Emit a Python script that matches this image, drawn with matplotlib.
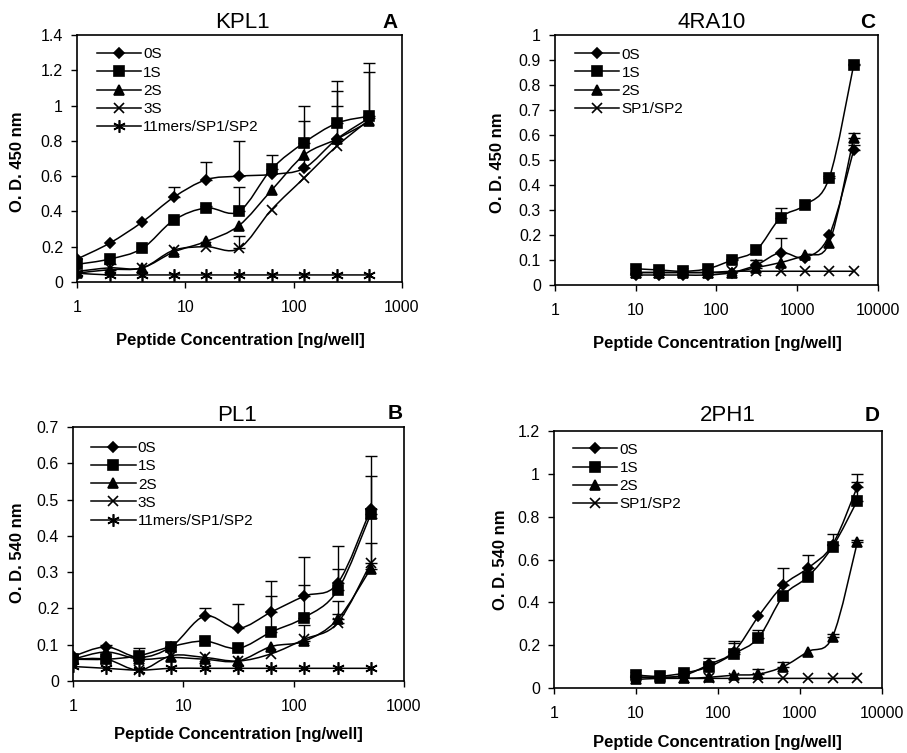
import numpy as np
import matplotlib
matplotlib.use('Agg')
import matplotlib.pyplot as plt
from matplotlib.path import Path
from matplotlib.patches import PathPatch
from matplotlib.lines import Line2D
from matplotlib.ticker import FixedLocator, NullLocator, FuncFormatter

plt.rcParams['font.family'] = ['Liberation Sans', 'DejaVu Sans']

# ========================= DADOS =========================

conc_ab = [1, 2, 4, 7.8, 15.6, 31.25, 62.5, 125, 250, 500]
conc_cd = [10, 19.5, 39, 78, 156, 312, 625, 1250, 2500, 5000]

# Painel A - KPL1
kpl1_0s = [0.13, 0.22, 0.34, 0.48, 0.58, 0.60, 0.61, 0.645, 0.81, 0.93]
kpl1_1s = [0.10, 0.13, 0.19, 0.35, 0.42, 0.40, 0.64, 0.79, 0.90, 0.94]
kpl1_2s = [0.05, 0.07, 0.08, 0.17, 0.23, 0.32, 0.52, 0.72, 0.81, 0.91]
kpl1_3s = [0.06, 0.08, 0.08, 0.18, 0.20, 0.19, 0.41, 0.59, 0.77, 0.92]
kpl1_11 = [0.05, 0.04, 0.04, 0.04, 0.04, 0.04, 0.04, 0.04, 0.04, 0.04]
kpl1_0s_err = [0, 0, 0, 0.06, 0.10, 0.20, 0, 0.265, 0.27, 0.26]
kpl1_1s_err = [0, 0, 0, 0, 0.01, 0.14, 0.08, 0.21, 0.24, 0.30]
kpl1_2s_err = [0, 0.03, 0, 0, 0, 0, 0, 0, 0.19, 0]
kpl1_3s_err = [0, 0, 0, 0, 0, 0.07, 0, 0, 0, 0]

# Painel B - PL1
pl1_0s = [0.068, 0.094, 0.065, 0.095, 0.179, 0.145, 0.19, 0.234, 0.269, 0.474]
pl1_1s = [0.06, 0.06, 0.07, 0.095, 0.11, 0.09, 0.135, 0.175, 0.25, 0.46]
pl1_2s = [0.06, 0.08, 0.06, 0.065, 0.06, 0.055, 0.095, 0.11, 0.17, 0.31]
pl1_3s = [0.06, 0.06, 0.03, 0.07, 0.065, 0.055, 0.075, 0.115, 0.16, 0.325]
pl1_11 = [0.04, 0.035, 0.03, 0.035, 0.035, 0.035, 0.035, 0.035, 0.035, 0.035]
pl1_0s_err = [0, 0.006, 0.025, 0, 0.022, 0.067, 0.087, 0.108, 0.103, 0.146]
pl1_1s_err = [0, 0, 0, 0, 0, 0, 0.10, 0.09, 0.06, 0.105]
pl1_2s_err = [0, 0, 0, 0, 0, 0, 0, 0.045, 0.05, 0.07]
pl1_3s_err = [0, 0, 0, 0, 0, 0, 0, 0, 0.025, 0.125]

# Painel C - 4RA10
ra10_0s = [0.04, 0.04, 0.04, 0.04, 0.05, 0.08, 0.13, 0.11, 0.20, 0.54]
ra10_1s = [0.065, 0.06, 0.055, 0.065, 0.10, 0.14, 0.27, 0.32, 0.43, 0.88]
ra10_2s = [0.05, 0.05, 0.05, 0.05, 0.05, 0.07, 0.09, 0.12, 0.17, 0.59]
ra10_sp = [0.05, 0.05, 0.05, 0.05, 0.055, 0.055, 0.055, 0.055, 0.055, 0.055]
ra10_0s_err = [0.01, 0, 0, 0, 0, 0.02, 0.06, 0, 0, 0.02]
ra10_1s_err = [0, 0, 0, 0, 0.005, 0, 0.04, 0, 0.005, 0.005]
ra10_2s_err = [0, 0, 0, 0, 0, 0.03, 0, 0, 0, 0.02]

# Painel D - 2PH1
ph1_0s = [0.05, 0.05, 0.06, 0.11, 0.17, 0.335, 0.48, 0.56, 0.67, 0.94]
ph1_1s = [0.06, 0.055, 0.07, 0.10, 0.16, 0.235, 0.43, 0.52, 0.66, 0.875]
ph1_2s = [0.04, 0.045, 0.045, 0.05, 0.06, 0.065, 0.10, 0.17, 0.24, 0.68]
ph1_sp = [0.05, 0.05, 0.045, 0.045, 0.045, 0.045, 0.045, 0.045, 0.045, 0.045]
ph1_0s_err = [0.01, 0, 0, 0.03, 0.04, 0, 0.08, 0.06, 0.05, 0.06]
ph1_1s_err = [0, 0, 0.01, 0, 0.06, 0.035, 0, 0, 0, 0.085]
ph1_2s_err = [0, 0, 0, 0, 0, 0.025, 0.02, 0, 0.01, 0.01]

labels_ab = ['0S', '1S', '2S', '3S', '11mers/SP1/SP2']
labels_cd = ['0S', '1S', '2S', 'SP1/SP2']

MARKERS = {'0S': ('D', 5.5), '1S': ('s', 6.5), '2S': ('^', 7.5), '3S': ('x', 7),
           '11mers/SP1/SP2': ((6, 2, 0), 9), 'SP1/SP2': ('x', 7)}


# ========================= DESENHO =========================

def smooth_path(x, y):
    """Curva suavizada (estilo Excel) entre os pontos, no espaço log-x."""
    lx = np.log10(np.asarray(x, float))
    y = np.asarray(y, float)
    n = len(lx)
    verts = [(lx[0], y[0])]
    codes = [Path.MOVETO]
    for i in range(n - 1):
        i0 = max(i - 1, 0)
        i3 = min(i + 2, n - 1)
        c1 = (lx[i] + (lx[i + 1] - lx[i0]) / 6, y[i] + (y[i + 1] - y[i0]) / 6)
        c2 = (lx[i + 1] - (lx[i3] - lx[i]) / 6, y[i + 1] - (y[i3] - y[i]) / 6)
        verts += [c1, c2, (lx[i + 1], y[i + 1])]
        codes += [Path.CURVE4] * 3
    verts = np.array(verts)
    verts[:, 0] = 10 ** verts[:, 0]
    return Path(verts, codes)


def draw_panel(rect, x, series, labels, errs, ymax, ystep, xmax, legend_pos):
    ax = fig.add_axes(rect)
    ax.set_xscale('log')
    for y, lab, err in zip(series, labels, errs):
        mk, ms = MARKERS[lab]
        ax.add_patch(PathPatch(smooth_path(x, y), fill=False, ec='black', lw=1.1, zorder=2))
        ax.plot(x, y, ls='none', marker=mk, ms=ms, color='black', mew=1.2, zorder=3)
        if err is not None:
            e = np.asarray(err)
            m = e > 0
            xs = np.asarray(x)[m]
            ys = np.asarray(y)[m]
            ax.errorbar(xs, ys, yerr=[np.zeros(m.sum()), e[m]], fmt='none',
                        ecolor='black', elinewidth=1, capsize=4, capthick=1, zorder=2)
    ax.set_xlim(1, xmax)
    ax.set_ylim(0, ymax)
    decades = [10 ** k for k in range(int(np.log10(xmax)) + 1)]
    ax.xaxis.set_major_locator(FixedLocator(decades))
    ax.xaxis.set_minor_locator(NullLocator())
    ax.xaxis.set_major_formatter(FuncFormatter(lambda v, p: '%d' % v))
    ax.yaxis.set_major_locator(FixedLocator(np.arange(0, ymax + 1e-9, ystep)))
    ax.yaxis.set_major_formatter(FuncFormatter(lambda v, p: '%g' % round(v, 2)))
    ax.tick_params(direction='out', length=4, width=1, labelsize=11.5)
    ax.tick_params(axis='x', pad=9)
    ax.tick_params(axis='y', pad=6)
    for s in ax.spines.values():
        s.set_linewidth(1.2)
    handles = [Line2D([0], [0], color='black', lw=1.1, marker=MARKERS[l][0],
                      ms=MARKERS[l][1], mew=1.2) for l in labels]
    ax.legend(handles, labels, loc='upper left', bbox_to_anchor=legend_pos,
              frameon=False, fontsize=11, handlelength=2.9, handletextpad=0.15,
              labelspacing=0.28, borderpad=0, borderaxespad=0)
    return ax


W, H = 907, 753
fig = plt.figure(figsize=(W / 100, H / 100), dpi=100)


def ftext(px, py, s, **kw):
    fig.text(px / W, 1 - py / H, s, ha='center', va='center', **kw)


draw_panel([0.0849, 0.6255, 0.3583, 0.328], conc_ab,
           [kpl1_0s, kpl1_1s, kpl1_2s, kpl1_3s, kpl1_11], labels_ab,
           [kpl1_0s_err, kpl1_1s_err, kpl1_2s_err, kpl1_3s_err, None],
           1.4, 0.2, 1000, (0.06, 0.95))
draw_panel([0.0805, 0.0956, 0.3649, 0.3373], conc_ab,
           [pl1_0s, pl1_1s, pl1_2s, pl1_3s, pl1_11], labels_ab,
           [pl1_0s_err, pl1_1s_err, pl1_2s_err, pl1_3s_err, None],
           0.7, 0.1, 1000, (0.055, 0.945))
draw_panel([0.6119, 0.6215, 0.3561, 0.332], conc_cd,
           [ra10_0s, ra10_1s, ra10_2s, ra10_sp], labels_cd,
           [ra10_0s_err, ra10_1s_err, ra10_2s_err, None],
           1.0, 0.1, 10000, (0.062, 0.95))
draw_panel([0.6108, 0.0863, 0.3616, 0.3413], conc_cd,
           [ph1_0s, ph1_1s, ph1_2s, ph1_sp], labels_cd,
           [ph1_0s_err, ph1_1s_err, ph1_2s_err, None],
           1.2, 0.2, 10000, (0.058, 0.955))

# títulos e letras
ftext(242, 22, 'KPL1', fontsize=16)
ftext(390, 22, 'A', fontsize=15, fontweight='bold')
ftext(712, 22, '4RA10', fontsize=16)
ftext(868, 22, 'C', fontsize=15, fontweight='bold')
ftext(237, 416, 'PL1', fontsize=16)
ftext(395, 414, 'B', fontsize=15, fontweight='bold')
ftext(728, 416, '2PH1', fontsize=16)
ftext(872, 416, 'D', fontsize=15, fontweight='bold')

# rótulos dos eixos
xl = 'Peptide Concentration [ng/well]'
ftext(240, 340, xl, fontsize=12, fontweight='bold')
ftext(717, 343, xl, fontsize=12, fontweight='bold')
ftext(238, 735, xl, fontsize=12, fontweight='bold')
ftext(717, 742, xl, fontsize=12, fontweight='bold')
ftext(18, 162, 'O. D. 450 nm', fontsize=12, fontweight='bold', rotation=90)
ftext(497, 163, 'O. D. 450 nm', fontsize=12, fontweight='bold', rotation=90)
ftext(18, 553, 'O. D. 540 nm', fontsize=12, fontweight='bold', rotation=90)
ftext(500, 560, 'O. D. 540 nm', fontsize=12, fontweight='bold', rotation=90)

fig.savefig('out.png', dpi=100)
plt.close(fig)
